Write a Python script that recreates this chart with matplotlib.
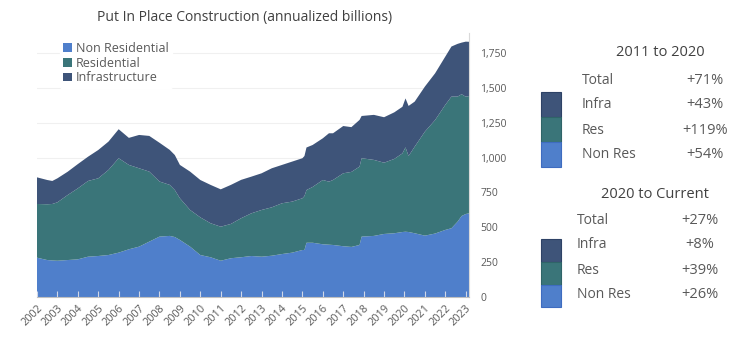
import matplotlib.pyplot as plt
from matplotlib.patches import Rectangle
from matplotlib.ticker import FuncFormatter

plt.rcParams["font.family"] = ["Open Sans", "DejaVu Sans"]

# decimal year of each reading, values in annualized $ billions
years = [2002.0, 2002.5, 2002.75, 2003.0, 2003.5, 2004.0, 2004.5, 2005.0, 2005.5, 2006.0,
         2006.5, 2007.0, 2007.5, 2008.0, 2008.5, 2008.75, 2009.0, 2009.5, 2010.0, 2010.5,
         2011.0, 2011.5, 2012.0, 2012.5, 2013.0, 2013.5, 2014.0, 2014.5, 2015.0, 2015.1,
         2015.2, 2015.5, 2016.0, 2016.3, 2016.5, 2017.0, 2017.4, 2017.8, 2017.9, 2018.5,
         2019.0, 2019.5, 2019.9, 2020.05, 2020.2, 2020.5, 2021.0, 2021.5, 2022.0, 2022.3,
         2022.6, 2022.8, 2023.0, 2023.16]
non_res = [282, 265, 262, 260, 265, 270, 289, 294, 301, 318,
           342, 361, 397, 433, 438, 430, 409, 361, 301, 285,
           260, 278, 285, 294, 289, 296, 308, 318, 337, 337,
           389, 389, 378, 375, 373, 364, 359, 373, 433, 438,
           452, 457, 466, 468, 466, 457, 440, 455, 481, 493,
           540, 581, 595, 600]
res = [385, 400, 405, 419, 466, 509, 543, 557, 610, 677,
       605, 562, 502, 395, 366, 337, 299, 263, 270, 244,
       244, 246, 280, 306, 335, 347, 364, 366, 371, 387,
       378, 400, 461, 452, 466, 523, 538, 562, 562, 545,
       511, 533, 564, 605, 545, 621, 746, 814, 897, 944,
       897, 873, 841, 841]
infra = [191, 174, 165, 172, 167, 174, 174, 203, 203, 208,
         194, 239, 256, 278, 251, 251, 239, 275, 268, 275,
         268, 280, 275, 263, 263, 280, 275, 287, 287, 287,
         305, 301, 299, 347, 335, 339, 321, 335, 303, 323,
         326, 334, 334, 351, 359, 323, 323, 335, 346, 359,
         378, 370, 395, 389]

year_ticks = list(range(2002, 2024))
y_ticks = [0, 250, 500, 750, 1000, 1250, 1500, 1750]

series_names = ["Non Residential", "Residential", "Infrastructure"]
NONRES_COLOR = "#4F7FCB"
RES_COLOR = "#3A7579"
INFRA_COLOR = "#3E5479"
colors = [NONRES_COLOR, RES_COLOR, INFRA_COLOR]

periods = ["2011 to 2020", "2020 to Current"]
row_labels = ["Total", "Infra", "Res", "Non Res"]
changes = [["+71%", "+43%", "+119%", "+54%"],
           ["+27%", "+8%", "+39%", "+26%"]]

TEXT = "#595959"
DARK = "#404040"

fig = plt.figure(figsize=(7.5, 3.54), dpi=100)
W, H = 750, 354
ax = fig.add_axes([37 / W, 1 - 297 / H, (469 - 37) / W, (297 - 33) / H])

ax.stackplot(years, non_res, res, infra, colors=colors, labels=series_names, linewidth=0)
ax.set_xlim(2002, 2023.16)
ax.set_ylim(0, 1893)

ax.set_xticks(year_ticks)
ax.set_xticklabels([str(y) for y in year_ticks], rotation=45, ha="right",
                   rotation_mode="anchor", fontsize=7.8, color=TEXT)
ax.tick_params(axis="x", direction="in", length=4, color="#d0d8e8", pad=4)

ax.yaxis.tick_right()
ax.set_yticks(y_ticks)
ax.yaxis.set_major_formatter(FuncFormatter(lambda v, _: f"{int(v):,}"))
ax.tick_params(axis="y", length=0, pad=8, labelsize=7.5, labelcolor=TEXT)
ax.grid(axis="y", color="#f0f0f0", linewidth=0.8)
ax.yaxis.set_zorder(0.5)

for side in ("top", "left"):
    ax.spines[side].set_visible(False)
ax.spines["right"].set_color("#d9d9d9")
ax.spines["bottom"].set_color("#c0c0c0")

leg = ax.legend(loc="upper left", bbox_to_anchor=(0.038, 1.005), frameon=True, fontsize=9,
                handlelength=0.7, handleheight=0.7, handletextpad=0.3, labelspacing=0.15,
                borderpad=0.3, framealpha=1, edgecolor="white", labelcolor=TEXT)

fig.text(245 / W, 1 - 18 / H, "Put In Place Construction (annualized billions)",
         ha="center", va="center", fontsize=10, color=DARK)

# side summary, laid out in pixel coordinates
over = fig.add_axes([0, 0, 1, 1])
over.set_xlim(0, W)
over.set_ylim(H, 0)
over.axis("off")

blocks = [
    dict(title_x=660, title_y=53, label_x=582, pct_x=705, rows_y=[80, 105, 130, 155],
         bar_y=[92, 117, 142, 167]),
    dict(title_x=655, title_y=194, label_x=577, pct_x=700, rows_y=[220, 245, 270, 295],
         bar_y=[239, 262, 285, 307]),
]
bar_colors = [INFRA_COLOR, RES_COLOR, NONRES_COLOR]
edge_colors = ["#2E4266", "#2F6468", "#3E6CC0"]
for period, pcts, b in zip(periods, changes, blocks):
    over.text(b["title_x"], b["title_y"], period, ha="center", va="center",
              fontsize=10.5, color=DARK)
    for label, pct, yy in zip(row_labels, pcts, b["rows_y"]):
        over.text(b["label_x"], yy, label, ha="left", va="center", fontsize=10, color=TEXT)
        over.text(b["pct_x"], yy, pct, ha="center", va="center", fontsize=10.5, color=TEXT)
    ys = b["bar_y"]
    for i in range(3):
        over.add_patch(Rectangle((541, ys[i]), 20, ys[i + 1] - ys[i], facecolor=bar_colors[i],
                                 edgecolor=edge_colors[i], linewidth=0.8))

fig.savefig("out.png", dpi=100)
